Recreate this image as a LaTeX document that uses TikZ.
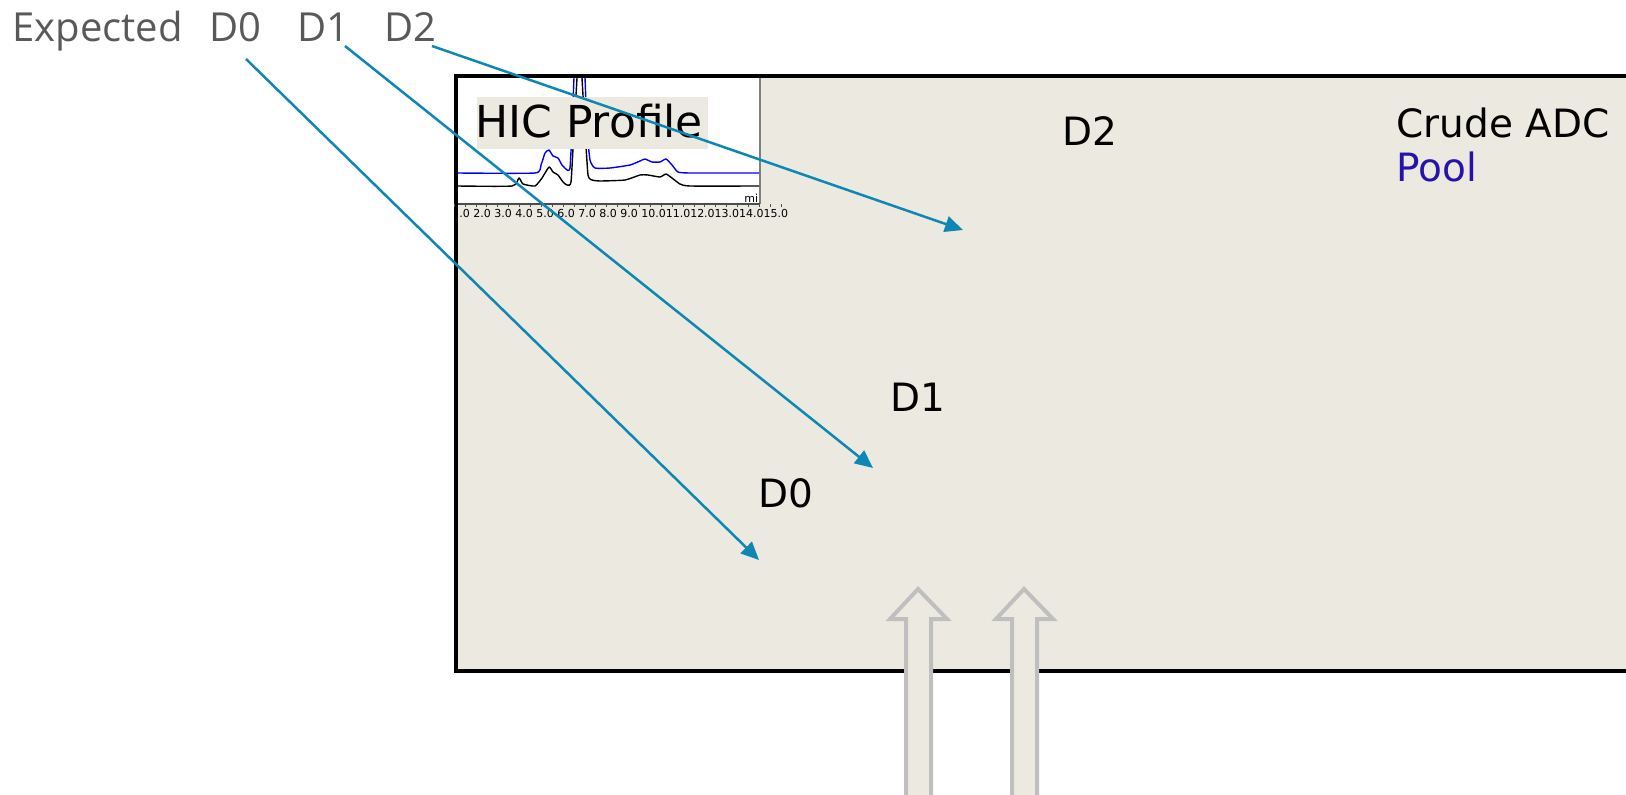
\documentclass[tikz,border=0pt]{standalone}
\usepackage{fontspec}
\setmainfont{DejaVu Sans}
\newfontfamily\segoe{Open Sans}
\usetikzlibrary{arrows.meta}
\definecolor{beige}{RGB}{236,234,224}
\definecolor{teal}{RGB}{14,135,180}
\definecolor{poolblue}{RGB}{38,20,170}
\definecolor{txtgray}{RGB}{89,89,89}
\definecolor{blockgray}{RGB}{191,191,191}
\tikzset{
  lbl/.style={inner sep=0pt, anchor=base west, font=\fontsize{19.5}{23}\selectfont},
  toplbl/.style={inner sep=0pt, anchor=base west, text=txtgray, font=\segoe\fontsize{20}{24}\selectfont},
  pointer/.style={draw=teal, line width=1.25pt, -{Triangle[length=9pt,width=8pt]}},
  blockarrow/.style={draw=blockgray, fill=beige, line width=2pt, line join=miter},
  tick/.style={font=\fontsize{5.5}{6.5}\selectfont, inner sep=0pt, anchor=base west}
}
\begin{document}
\begin{tikzpicture}[x=0.5pt,y=-0.5pt]
\useasboundingbox (0,0) rectangle (1626,794);
% main box
\fill[beige] (456,76) rectangle (1626,671);
\draw[line width=2pt] (1630,76) -- (456,76) -- (456,671) -- (1630,671);
% chart
\fill[white] (458,78) rectangle (759,203);
\draw[gray, line width=1pt] (760,78) -- (760,204);
\begin{scope}
\clip (458,78) rectangle (759,203);
\draw[blue, line width=0.7pt, line join=round] plot[smooth, tension=0.3] coordinates {
 (458,173) (535,173) (541,165) (545,153) (549,150) (553,156) (558,158) (562,165) (567,170) (570,168) (572,130) (574,78) (576,60) (583,60) (585,78) (587,130) (590,160) (595,168) (610,168) (630,165) (640,161) (645,159) (652,162) (660,162) (666,159) (672,165) (678,172) (690,173) (759,173)};
\draw[black, line width=0.7pt, line join=round] plot[smooth, tension=0.3] coordinates {
 (458,186) (512,186) (519,178) (523,184) (535,186) (542,178) (549,167) (553,172) (558,175) (563,182) (567,185) (571,182) (574,130) (577,78) (578,60) (581,60) (582,78) (585,130) (588,175) (592,180) (600,181) (625,180) (640,175) (648,175) (660,177) (666,174) (672,178) (680,184) (690,186) (759,186)};
\end{scope}
\draw[black!70, line width=1.2pt] (458,204) -- (760,204);
\foreach \i in {0,...,30} {\draw[black!70, line width=0.4pt] ({465+(\i)*10.9-10.9},204) -- ({465+(\i)*10.9-10.9},207);}
\node[tick] (ticks) at (459,217) {.0 2.0 3.0 4.0 5.0 6.0 7.0 8.0 9.0 10.011.012.013.014.015.0};
\node[tick] (mi) at (744,202) {mi};
% HIC Profile label
\fill[beige] (477,97) rectangle (708,149);
\node[inner sep=0pt, anchor=base west, font=\fontsize{22}{26}\selectfont] (hic) at (475,137) {HIC Profile};
% labels in box
\node[lbl] (d2) at (1062,145) {D2};
\node[lbl] (d1) at (890,411) {D1};
\node[lbl] (d0) at (758,507) {D0};
\node[lbl] (crude) at (1396,137) {Crude ADC};
\node[lbl, text=poolblue] (pool) at (1396,181) {Pool};
% top labels
\node[toplbl] (exp) at (12,41) {Expected};
\node[toplbl] (e0) at (209,41) {D0};
\node[toplbl] (e1) at (297,41) {D1};
\node[toplbl] (e2) at (384,41) {D2};
% arrow ends
\coordinate (s0) at (246,59);
\coordinate (s1) at (345,46);
\coordinate (s2) at (432,46);
\coordinate (f0) at (759,560);
\coordinate (f1) at (873,468);
\coordinate (f2) at (963,230);
\draw[pointer] (s0) -- (f0);
\draw[pointer] (s1) -- (f1);
\draw[pointer] (s2) -- (f2);
% block arrows
\draw[blockarrow] (918,589) -- (947,619) -- (931,619) -- (931,800) -- (906,800) -- (906,619) -- (890,619) -- cycle;
\draw[blockarrow] (1024,589) -- (1053,619) -- (1037,619) -- (1037,800) -- (1012,800) -- (1012,619) -- (996,619) -- cycle;
\end{tikzpicture}
\end{document}
